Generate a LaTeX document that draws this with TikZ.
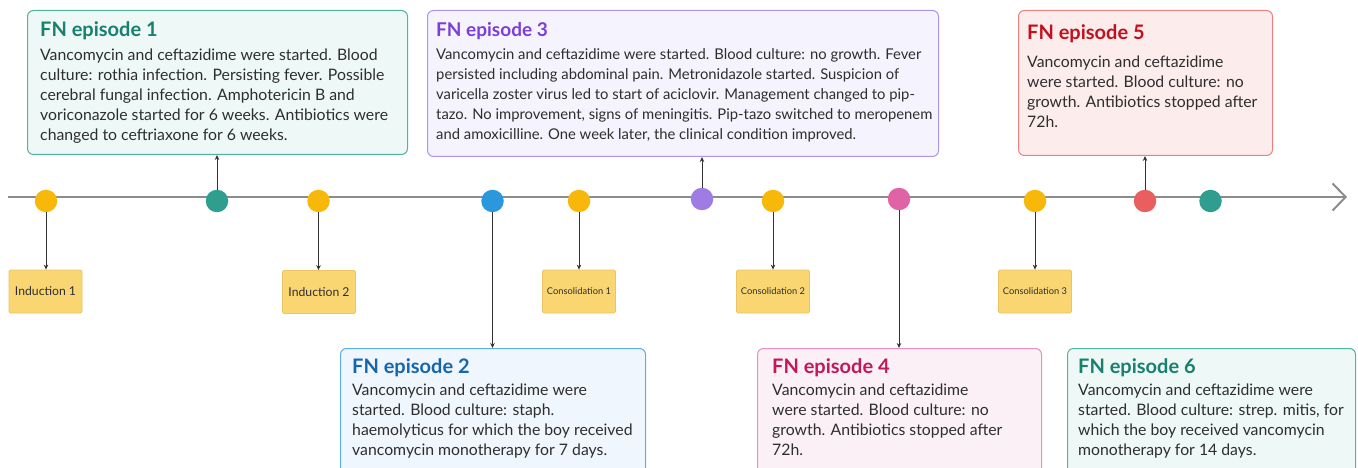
\documentclass[tikz,border=0pt]{standalone}
\usepackage{fontspec}
\setmainfont{Lato}
\usetikzlibrary{arrows.meta}

% palette
\definecolor{axisgray}{HTML}{8C8C8C}
\definecolor{linkgray}{HTML}{333333}
\definecolor{ink}{HTML}{2E2E2E}
\definecolor{amber}{HTML}{F8B80A}
\definecolor{phasefill}{HTML}{FAD673}
\definecolor{phaseedge}{HTML}{EBC463}
\definecolor{tealdot}{HTML}{2F9E8F}
\definecolor{tealtitle}{HTML}{17806F}
\definecolor{tealedge}{HTML}{4DB5A0}
\definecolor{tealfill}{HTML}{EEF8F6}
\definecolor{bluedot}{HTML}{2B98DE}
\definecolor{bluetitle}{HTML}{1766AC}
\definecolor{blueedge}{HTML}{5AB0E6}
\definecolor{bluefill}{HTML}{F0F6FD}
\definecolor{purpledot}{HTML}{9E7CE4}
\definecolor{purpletitle}{HTML}{7A3FD8}
\definecolor{purpleedge}{HTML}{AE95EC}
\definecolor{purplefill}{HTML}{F5F3FD}
\definecolor{pinkdot}{HTML}{E063A6}
\definecolor{pinktitle}{HTML}{C2185B}
\definecolor{pinkedge}{HTML}{EA8EC0}
\definecolor{pinkfill}{HTML}{FBF0F6}
\definecolor{reddot}{HTML}{E95F60}
\definecolor{redtitle}{HTML}{C4101E}
\definecolor{rededge}{HTML}{EE8080}
\definecolor{redfill}{HTML}{FDECEC}

\newcommand{\cardlines}[1]{\parbox[t]{600pt}{\raggedright #1}}

\tikzset{
  axis/.style={draw=axisgray, line width=2pt, -{Straight Barb[length=13pt,width=27pt]}},
  evdot/.style={circle, minimum size=22.5pt, inner sep=0pt, fill=#1},
  phase/.style={draw=phaseedge, fill=phasefill, rounded corners=1.5pt, line width=0.8pt,
    minimum width=73pt, minimum height=43pt, inner sep=0pt, text=ink},
  phaseA/.style={phase, font=\fontsize{12.2}{13}\selectfont},
  phaseB/.style={phase, font=\fontsize{9.3}{11}\selectfont},
  card/.style={draw=#1edge, fill=#1fill, rounded corners=6pt, line width=1pt,
    inner sep=0pt, anchor=north west},
  cardtitle/.style={text=#1title, font=\bfseries\fontsize{20}{20}\selectfont,
    inner sep=0pt, anchor=base west},
  cardbody/.style={text=ink, font=\fontsize{15.8}{20}\selectfont,
    inner sep=0pt, anchor=base west},
  smalltitle/.style={font=\bfseries\fontsize{19}{20}\selectfont},
  smallbody/.style={font=\fontsize{14.8}{20}\selectfont},
  link/.style={draw=linkgray, line width=0.9pt, -{Stealth[length=5pt,width=4.5pt]}},
}

\begin{document}
\begin{tikzpicture}[x=1pt,y=-1pt]
\useasboundingbox (0,0) rectangle (1358,468);

% time axis
\coordinate (a0) at (8,197);
\coordinate (a1) at (1347,197);
\draw[axis] (a0) -- (a1);

% events on the axis
\node[evdot=amber]     (y1) at (46,201) {};
\node[evdot=tealdot]   (e1) at (217,201) {};
\node[evdot=amber]     (y2) at (318.5,201) {};
\node[evdot=bluedot]   (e2) at (492.5,201) {};
\node[evdot=amber]     (y3) at (579,201) {};
\node[evdot=purpledot] (e3) at (702,199) {};
\node[evdot=amber]     (y4) at (773,201) {};
\node[evdot=pinkdot]   (e4) at (899,199) {};
\node[evdot=amber]     (y5) at (1035,201) {};
\node[evdot=reddot]    (e5) at (1145,201) {};
\node[evdot=tealdot]   (e6) at (1210.5,201) {};

% treatment phases
\node[phaseA] (p1) at (45.5,291.5) {Induction 1};
\node[phaseA] (p2) at (319,292) {Induction 2};
\node[phaseB] (p3) at (579,291.5) {Consolidation 1};
\node[phaseB] (p4) at (773,291.5) {Consolidation 2};
\node[phaseB] (p5) at (1035,291.5) {Consolidation 3};

\foreach \d/\p in {y1/p1,y2/p2,y3/p3,y4/p4,y5/p5}
  \draw[link] (\d.south) -- (\d.south |- \p.north);

% episode cards
\node[card=teal, minimum width=380pt, minimum height=144pt] (c1) at (27,10) {};
\node[cardtitle=teal] (t1) at (40,37) {FN episode 1};
\node[cardbody] (b1) at (40,61) {\cardlines{Vancomycin and ceftazidime were started. Blood\\
culture: rothia infection. Persisting fever. Possible\\
cerebral fungal infection. Amphotericin B and\\
voriconazole started for 6 weeks. Antibiotics were\\
changed to ceftriaxone for 6 weeks.}};

\node[card=purple, minimum width=511pt, minimum height=146pt] (c3) at (427,10) {};
\node[cardtitle=purple, smalltitle] (t3) at (436,37) {FN episode 3};
\node[cardbody, smallbody] (b3) at (436,60) {\cardlines{Vancomycin and ceftazidime were started. Blood culture: no growth. Fever\\
persisted including abdominal pain. Metronidazole started. Suspicion of\\
varicella zoster virus led to start of aciclovir. Management changed to pip-\\
tazo. No improvement, signs of meningitis. Pip-tazo switched to meropenem\\
and amoxicilline. One week later, the clinical condition improved.}};

\node[card=red, minimum width=254pt, minimum height=145pt] (c5) at (1018,10) {};
\node[cardtitle=red] (t5) at (1027,40) {FN episode 5};
\node[cardbody] (b5) at (1027,68) {\cardlines{Vancomycin and ceftazidime\\
were started. Blood culture: no\\
growth. Antibiotics stopped after\\
72h.}};

\node[card=blue, minimum width=305pt, minimum height=140pt] (c2) at (340,348) {};
\node[cardtitle=blue] (t2) at (352,373) {FN episode 2};
\node[cardbody] (b2) at (352,395) {\cardlines{Vancomycin and ceftazidime were\\
started. Blood culture: staph.\\
haemolyticus for which the boy received\\
vancomycin monotherapy for 7 days.}};

\node[card=pink, minimum width=284pt, minimum height=140pt] (c4) at (757,348) {};
\node[cardtitle=pink] (t4) at (772,373) {FN episode 4};
\node[cardbody] (b4) at (772,395) {\cardlines{Vancomycin and ceftazidime\\
were started. Blood culture: no\\
growth. Antibiotics stopped after\\
72h.}};

\node[card=teal, minimum width=288pt, minimum height=140pt] (c6) at (1067,348) {};
\node[cardtitle=teal] (t6) at (1078,373) {FN episode 6};
\node[cardbody] (b6) at (1078,395) {\cardlines{Vancomycin and ceftazidime were\\
started. Blood culture: strep. mitis, for\\
which the boy received vancomycin\\
monotherapy for 14 days.}};

% episode links
\draw[link] (e1.north) -- (e1.north |- c1.south);
\draw[link] (e3.north) -- (e3.north |- c3.south);
\draw[link] (e5.north) -- (e5.north |- c5.south);
\draw[link] (e2.south) -- (e2.south |- c2.north);
\draw[link] (e4.south) -- (e4.south |- c4.north);
\end{tikzpicture}
\end{document}
